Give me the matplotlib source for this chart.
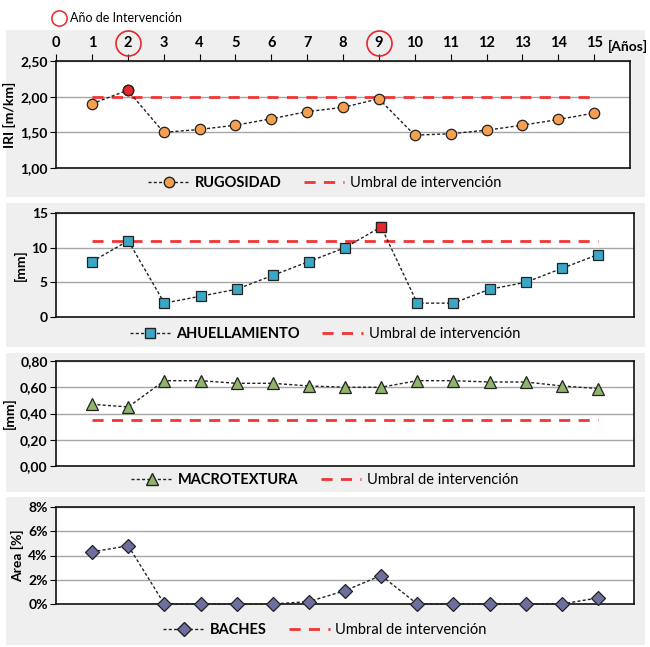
import matplotlib
matplotlib.use('Agg')
import matplotlib.pyplot as plt
from matplotlib.lines import Line2D
from matplotlib.patches import Rectangle
from matplotlib.ticker import FuncFormatter, MultipleLocator

plt.rcParams['font.family'] = ['Lato', 'DejaVu Sans']

# Data
years = list(range(1, 16))
year_ticks = list(range(0, 16))
intervention_years = [2, 9]

rugosidad = [1.90, 2.09, 1.50, 1.54, 1.60, 1.69, 1.79, 1.85, 1.97, 1.46, 1.48, 1.53, 1.60, 1.68, 1.77]
ahuellamiento = [8, 11, 2, 3, 4, 6, 8, 10, 13, 2, 2, 4, 5, 7, 9]
macrotextura = [0.47, 0.45, 0.65, 0.65, 0.63, 0.63, 0.61, 0.60, 0.60, 0.65, 0.65, 0.64, 0.64, 0.61, 0.59]
baches = [4.3, 4.8, 0, 0, 0, 0, 0.2, 1.1, 2.35, 0, 0, 0, 0, 0, 0.5]

umbral_rugosidad = 2.0
umbral_ahuellamiento = 11
umbral_macrotextura = 0.35

W, H = 650, 647
fig = plt.figure(figsize=(W / 100, H / 100), dpi=100)
fig.patch.set_facecolor('white')


def px_axes(left, top, right, bottom):
    return fig.add_axes([left / W, 1 - bottom / H, (right - left) / W, (bottom - top) / H])


def panel_bg(top, bottom):
    fig.patches.append(Rectangle((6 / W, 1 - bottom / H), 639 / W, (bottom - top) / H,
                                 transform=fig.transFigure, facecolor='#efefef',
                                 edgecolor='none', zorder=-5))


def comma_fmt(decimals):
    return FuncFormatter(lambda v, p: f'{v:.{decimals}f}'.replace('.', ','))


def draw_panel(ax, values, color, marker, msize, name, ylabel, ylim, step, fmt,
               umbral=None, highlight=None, legend_y=0.0):
    ax.set_xlim(0, 16)
    ax.set_ylim(*ylim)
    ax.yaxis.set_major_locator(MultipleLocator(step))
    ax.yaxis.set_major_formatter(fmt)
    ax.grid(axis='y', color='#a6a6a6', lw=1)
    ax.set_axisbelow(True)
    ax.set_xticks([])
    for s in ax.spines.values():
        s.set_linewidth(1.2)
        s.set_color('#111111')
    ax.tick_params(axis='y', labelsize=10, length=4, width=0.8, pad=2)
    for t in ax.get_yticklabels():
        t.set_fontweight('bold')
    ax.set_ylabel(ylabel, fontsize=10, fontweight='bold', labelpad=3)

    if umbral is not None:
        ax.plot([years[0], years[-1]], [umbral, umbral], color='#f03535', lw=2,
                dashes=(4, 3), zorder=2)
    ax.plot(years, values, color='#222222', lw=1, dashes=(2.2, 1.6), marker=marker,
            markersize=msize, markerfacecolor=color, markeredgecolor='#222222',
            markeredgewidth=0.9, zorder=3, clip_on=False)
    if highlight is not None:
        i = years.index(highlight)
        ax.plot([years[i]], [values[i]], marker=marker, markersize=msize,
                markerfacecolor='#e8262d', markeredgecolor='#222222',
                markeredgewidth=0.9, zorder=4, clip_on=False)

    handles = [Line2D([], [], color='#222222', lw=1, dashes=(2.2, 1.6), marker=marker,
                      markersize=msize, markerfacecolor=color, markeredgecolor='#222222'),
               Line2D([], [], color='#f03535', lw=2, dashes=(4, 3))]
    leg = fig.legend(handles, [name, 'Umbral de intervención'], loc='center',
                     bbox_to_anchor=(0.5, 1 - legend_y / H), ncol=2, frameon=False,
                     fontsize=10.5, handlelength=2.8, handletextpad=0.4, columnspacing=1.5)
    leg.get_texts()[0].set_fontweight('bold')


# panel backgrounds
panel_bg(30, 197)
panel_bg(203, 347)
panel_bg(353, 492)
panel_bg(497, 645)

# Rugosidad
ax1 = px_axes(56, 61, 630, 168)
draw_panel(ax1, rugosidad, '#f5a050', 'o', 7.5, 'RUGOSIDAD', 'IRI [m/km]', (1.0, 2.5), 0.5,
           comma_fmt(2), umbral=umbral_rugosidad, highlight=2, legend_y=183)
ax1.set_xticks(year_ticks)
ax1.tick_params(axis='x', top=True, bottom=False, labeltop=True, labelbottom=False,
                direction='out', length=5, width=0.8, pad=3, labelsize=10.5)
for t in ax1.get_xticklabels():
    t.set_fontweight('bold')
ax1.text(15.38, 1.0 + 8 / 107, '[Años]', transform=ax1.get_xaxis_transform(), ha='left',
         va='bottom', fontsize=10, fontweight='bold')
for yr in intervention_years:
    ax1.plot([yr], [1.0 + 18 / 107], transform=ax1.get_xaxis_transform(), marker='o',
             markersize=18, markerfacecolor='none', markeredgecolor='#e8262d',
             markeredgewidth=1.2, clip_on=False)

# Ahuellamiento
ax2 = px_axes(56, 213, 634, 317)
draw_panel(ax2, ahuellamiento, '#3ba7c6', 's', 7, 'AHUELLAMIENTO', '[mm]', (0, 15), 5,
           comma_fmt(0), umbral=umbral_ahuellamiento, highlight=9, legend_y=334)

# Macrotextura
ax3 = px_axes(56, 361, 634, 466)
draw_panel(ax3, macrotextura, '#8fb56a', '^', 8, 'MACROTEXTURA', '[mm]', (0, 0.8), 0.2,
           comma_fmt(2), umbral=umbral_macrotextura, legend_y=480)

# Baches
ax4 = px_axes(56, 507, 634, 604)
draw_panel(ax4, baches, '#6f6f9f', 'D', 7.5, 'BACHES', 'Area [%]', (0, 8), 2,
           FuncFormatter(lambda v, p: f'{v:.0f}%'), legend_y=630)

# intervention legend
fig.legend([Line2D([], [], ls='none', marker='o', markersize=11, markerfacecolor='none',
                   markeredgecolor='#e8262d', markeredgewidth=1.1)],
           ['Año de Intervención'], loc='center left', bbox_to_anchor=(39 / W, 1 - 18 / H),
           frameon=False, fontsize=9, handletextpad=0.2, handlelength=1.4)

fig.savefig('out.png', dpi=100)
